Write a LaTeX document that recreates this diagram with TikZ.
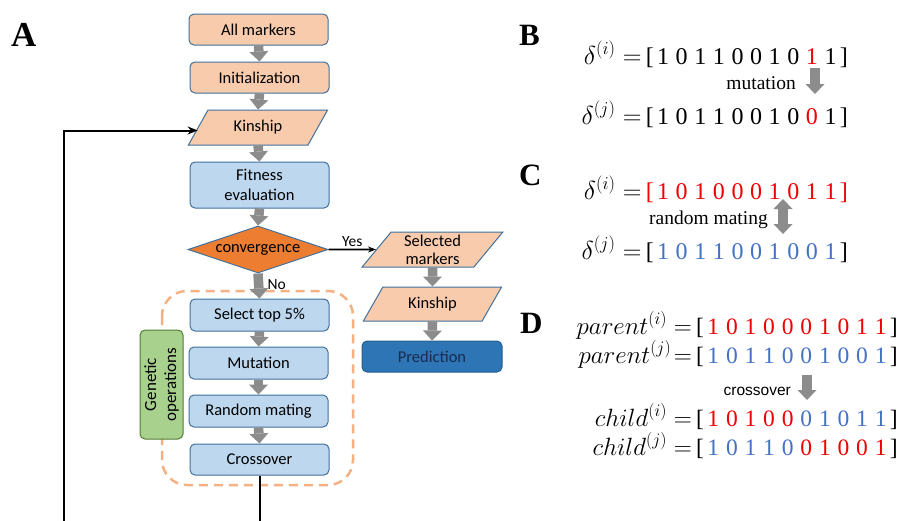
\RequirePackage{fix-cm}
\documentclass[tikz,border=0pt]{standalone}
\usepackage{fontspec}
\usetikzlibrary{shapes.geometric,arrows.meta}
\newfontfamily\fcal{Carlito}
\newfontfamily\tnr{Liberation Serif}
\newfontfamily\dig{Liberation Serif}
\newfontfamily\arialf{Liberation Sans}
\definecolor{peach}{HTML}{F8CBAD}
\definecolor{lblue}{HTML}{BDD7EE}
\definecolor{bdr}{HTML}{41719C}
\definecolor{convc}{HTML}{ED7D31}
\definecolor{predc}{HTML}{2E75B6}
\definecolor{predt}{HTML}{1A2B4C}
\definecolor{greenc}{HTML}{A9D18E}
\definecolor{greenb}{HTML}{507E32}
\definecolor{dashc}{HTML}{F4B183}
\definecolor{garrow}{HTML}{8C8C8C}
\definecolor{myred}{HTML}{F00000}
\definecolor{myblue}{HTML}{4472C4}
\newcommand\cellw{18.6pt}
\newcommand\dK[1]{\makebox[\cellw]{#1}}
\newcommand\dR[1]{\makebox[\cellw]{\textcolor{myred}{#1}}}
\newcommand\dB[1]{\makebox[\cellw]{\textcolor{myblue}{#1}}}
\newcommand\bitsB[1]{{\dig\fontsize{24}{28}\selectfont #1}}
\newcommand\bitsD[1]{{\dig\fontsize{23.5}{28}\selectfont #1}}
\tikzset{
  box/.style={rectangle, rounded corners=5pt, draw=bdr, line width=1pt,
    minimum width=139pt, minimum height=31pt, inner sep=1pt, align=center,
    font=\fcal\fontsize{16.5}{19.5}\selectfont},
  peachbox/.style={box, fill=peach},
  bluebox/.style={box, fill=lblue},
  para/.style={trapezium, trapezium left angle=56, trapezium right angle=124,
    trapezium stretches=true, draw=bdr, fill=peach, line width=1pt,
    minimum width=140pt, minimum height=35pt, inner sep=0pt, align=center,
    font=\fcal\fontsize{16.5}{19}\selectfont},
  blk/.style={line width=9.5pt, draw=garrow, -{Triangle[length=10pt,width=19pt,line width=0pt]}},
  blk2/.style={line width=9.5pt, draw=garrow, {Triangle[length=10pt,width=19pt,line width=0pt]}-{Triangle[length=10pt,width=19pt,line width=0pt]}},
  fb/.style={line width=2pt, draw=black},
  panel/.style={font=\tnr\bfseries\fontsize{31}{31}\selectfont, anchor=base west, inner sep=0pt},
  eqB/.style={font=\fontsize{26}{30}\selectfont, anchor=base east, inner sep=0pt},
  eqD/.style={font=\fontsize{25}{29}\selectfont, anchor=base east, inner sep=0pt},
  oplabel/.style={font=\tnr\fontsize{19.5}{22}\selectfont, anchor=base east, inner sep=0pt},
}
\begin{document}
\begin{tikzpicture}[x=1pt,y=-1pt]
\useasboundingbox (0,0) rectangle (901,520);
\fill[white] (0,0) rectangle (901,520);

% panel labels
\node[panel, font=\tnr\bfseries\fontsize{35}{35}\selectfont] (la) at (11,46) {A};
\node[panel] (lb) at (519,45) {B};
\node[panel] (lc) at (519,185) {C};
\node[panel] (ld) at (520,333) {D};

% dashed group and genetic operations
\draw[dashc, line width=2.5pt, dash pattern=on 9pt off 6pt, rounded corners=25pt] (162,291) rectangle (353,485);
\node[rectangle, rounded corners=5pt, draw=greenb, line width=1pt, fill=greenc, rotate=90,
  minimum width=109pt, minimum height=43pt, inner sep=1pt, align=center,
  font=\fcal\fontsize{17}{20}\selectfont] (gen) at (161.5,384.5) {Genetic\\operations};

% flowchart nodes
\node[peachbox] (all) at (258.5,29.5) {All markers};
\node[peachbox] (init) at (259.5,77.5) {Initialization};
\node[para] (kin) at (258,127.5) {Kinship};
\node[bluebox, minimum height=46pt] (fit) at (259.5,185) {Fitness\\evaluation};
\node[diamond, aspect=3, draw=bdr, line width=1pt, fill=convc, minimum width=140pt, minimum height=47pt,
  inner sep=0pt, font=\fcal\fontsize{16.5}{19}\selectfont] (conv) at (258,249.5) {convergence};
\node[para, minimum width=141pt, font=\fcal\fontsize{16.5}{18}\selectfont] (sel) at (432.5,249.5) {Selected\\markers};
\node[para, minimum width=139pt, minimum height=34pt] (kin2) at (432.5,304) {Kinship};
\node[box, fill=predc, draw=predc!80!black, minimum width=140pt, text=predt] (pred) at (432,356.5) {Prediction};
\node[bluebox, minimum height=32pt] (top) at (259.5,315) {Select top 5\%};
\node[bluebox, minimum height=32pt] (mut) at (258.5,363) {Mutation};
\node[bluebox, minimum height=32pt] (rm) at (258.5,411) {Random mating};
\node[bluebox] (cross) at (259.5,459.5) {Crossover};

% gray arrows
\draw[blk] (all.south) -- (init.north);
\draw[blk] (init.south) -- (kin.north);
\draw[blk] (kin.south) -- (fit.north);
\draw[blk] (fit.south) -- (conv.north);
\draw[blk] (conv.south) -- node[right, xshift=4pt, yshift=1pt, inner sep=0pt, font=\fcal\fontsize{15.5}{18}\selectfont] (no) {No} (top.north);
\draw[blk] (top.south) -- (mut.north);
\draw[blk] (mut.south) -- (rm.north);
\draw[blk] (rm.south) -- (cross.north);
\draw[blk] (sel.south) -- (kin2.north);
\draw[blk] (kin2.south) -- (pred.north);

% yes arrow
\draw[line width=1.6pt, -{Stealth[length=8pt,width=6pt]}] (conv.east) -- node[above, inner sep=2pt, font=\fcal\fontsize{15.5}{18}\selectfont] (yes) {Yes} (sel.west);

% feedback loop (cut by picture edge)
\begin{scope}
\clip (0,0) rectangle (901,520);
\draw[fb, -{Stealth[length=10pt,width=8pt]}] (cross.south) |- (64,560) |- ([yshift=-3pt]kin.west);
\end{scope}

% panel B
\node[eqB] (b1) at (848,64) {$\delta^{(i)}=$\,\bitsB{[\dK1\dK0\dK1\dK1\dK0\dK0\dK1\dK0\dR1\dK1]}};
\node[eqB] (b2) at (848,124) {$\delta^{(j)}=$\,\bitsB{[\dK1\dK0\dK1\dK1\dK0\dK0\dK1\dK0\dR0\dK1]}};
\node[oplabel] (bm) at (796,89) {mutation};
\coordinate (ba1) at (815,68);
\coordinate (ba2) at (815,94);
\draw[blk] (ba1) -- (ba2);

% panel C
\node[eqB] (c1) at (848,199) {$\delta^{(i)}=$\,\bitsB{\textcolor{myred}{[}\dR1\dR0\dR1\dR0\dR0\dR0\dR1\dR0\dR1\dR1\textcolor{myred}{]}}};
\node[eqB] (c2) at (848,259) {$\delta^{(j)}=$\,\bitsB{[\dB1\dB0\dB1\dB1\dB0\dB0\dB1\dB0\dB0\dB1]}};
\node[oplabel] (cm) at (768,224) {random mating};
\coordinate (ca1) at (783,199);
\coordinate (ca2) at (783,234);
\draw[blk2] (ca1) -- (ca2);

% panel D
\node[eqD] (d1) at (898,334) {$parent^{(i)}=$\,\bitsD{[\dR1\dR0\dR1\dR0\dR0\dR0\dR1\dR0\dR1\dR1]}};
\node[eqD] (d2) at (898,363) {$parent^{(j)}\!=$\,\bitsD{[\dB1\dB0\dB1\dB1\dB0\dB0\dB1\dB0\dB0\dB1]}};
\node[font=\arialf\fontsize{15.5}{18}\selectfont, anchor=base east, inner sep=0pt] (dm) at (791,395) {crossover};
\coordinate (da1) at (807,375);
\coordinate (da2) at (807,400);
\draw[blk] (da1) -- (da2);
\node[eqD] (d3) at (898,426) {$child^{(i)}=$\,\bitsD{[\dR1\dR0\dR1\dR0\dR0\dB0\dB1\dB0\dB1\dB1]}};
\node[eqD] (d4) at (898,455) {$child^{(j)}=$\,\bitsD{[\dB1\dB0\dB1\dB1\dB0\dR0\dR1\dR0\dR0\dR1]}};
\end{tikzpicture}
\end{document}
